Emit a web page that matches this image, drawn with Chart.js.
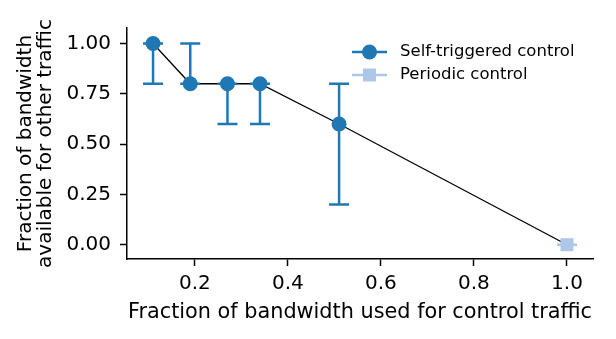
<!DOCTYPE html>
<html>
<head>
<meta charset="utf-8">
<script src="https://cdn.jsdelivr.net/npm/chart.js@4"></script>
<style>
  body { margin: 0; background: #fff; }
  #wrap { width: 616px; height: 339px; }
</style>
</head>
<body>
<div id="wrap"><canvas id="myChart" width="616" height="339"></canvas></div>
<script>
// self-triggered control: x, y and error range
const selfX = [0.11, 0.19, 0.27, 0.34, 0.51]
const selfY = [1.0, 0.8, 0.8, 0.8, 0.6]
const selfLow = [0.8, 0.8, 0.6, 0.6, 0.2]
const selfHigh = [1.0, 1.0, 0.8, 0.8, 0.8]

// periodic control
const periodicX = [1.0]
const periodicY = [0.0]
const periodicLow = [0.0]
const periodicHigh = [0.0]

const xTicks = [0.2, 0.4, 0.6, 0.8, 1.0]
const yTicks = [0.0, 0.25, 0.5, 0.75, 1.0]
const seriesNames = ['Self-triggered control', 'Periodic control']

const blue = '#1f77b4'
const lightBlue = '#aec7e8'
const font = 'DejaVu Sans'

function toPoints(xs, ys) {
    return xs.map((x, i) => ({ x: x, y: ys[i] }))
}

const errorBars = {
    id: 'errorBars',
    afterDatasetDraw(chart, args) {
        if (args.index !== 2) return
        const ctx = chart.ctx
        const xs = chart.scales.x
        const ys = chart.scales.y
        const groups = [
            [selfX, selfLow, selfHigh, blue],
            [periodicX, periodicLow, periodicHigh, lightBlue]
        ]
        ctx.save()
        ctx.lineWidth = 2.5
        groups.forEach(g => {
            ctx.strokeStyle = g[3]
            g[0].forEach((x, i) => {
                const px = xs.getPixelForValue(x)
                const lo = ys.getPixelForValue(g[1][i])
                const hi = ys.getPixelForValue(g[2][i])
                ctx.beginPath()
                ctx.moveTo(px, lo)
                ctx.lineTo(px, hi)
                ctx.moveTo(px - 10, lo)
                ctx.lineTo(px + 10, lo)
                ctx.moveTo(px - 10, hi)
                ctx.lineTo(px + 10, hi)
                ctx.stroke()
            })
        })
        ctx.restore()
    }
}

const legendBox = {
    id: 'legendBox',
    afterDraw(chart) {
        const ctx = chart.ctx
        const rows = [[blue, 'circle', 52], [lightBlue, 'square', 75]]
        ctx.save()
        rows.forEach((r, i) => {
            ctx.strokeStyle = r[0]
            ctx.fillStyle = r[0]
            ctx.lineWidth = 2.5
            ctx.beginPath()
            ctx.moveTo(352, r[2])
            ctx.lineTo(387, r[2])
            ctx.stroke()
            ctx.beginPath()
            if (r[1] === 'circle') {
                ctx.arc(369.5, r[2], 7.5, 0, Math.PI * 2)
            } else {
                ctx.rect(363, r[2] - 6.5, 13, 13)
            }
            ctx.fill()
            ctx.fillStyle = '#000'
            ctx.font = '16.5px "' + font + '"'
            ctx.textBaseline = 'middle'
            ctx.fillText(seriesNames[i], 400, r[2])
        })
        ctx.restore()
    }
}

const ctx = document.getElementById('myChart')
new Chart(ctx, {
    type: 'scatter',
    data: {
        datasets: [{
            label: seriesNames[0],
            data: toPoints(selfX, selfY),
            pointRadius: 7.5,
            pointHoverRadius: 7.5,
            pointBackgroundColor: blue,
            pointBorderWidth: 0,
            showLine: false
        }, {
            label: seriesNames[1],
            data: toPoints(periodicX, periodicY),
            pointStyle: 'rect',
            pointRadius: 9.2,
            pointHoverRadius: 9.2,
            pointBackgroundColor: lightBlue,
            pointBorderWidth: 0,
            showLine: false
        }, {
            label: 'link',
            data: toPoints(selfX.concat(periodicX), selfY.concat(periodicY)),
            showLine: true,
            borderColor: '#000',
            borderWidth: 1.3,
            pointRadius: 0,
            tension: 0
        }]
    },
    options: {
        responsive: false,
        animation: false,
        layout: { padding: { top: 28, right: 23, left: 0, bottom: 0 } },
        plugins: {
            legend: { display: false },
            tooltip: { enabled: false }
        },
        scales: {
            x: {
                type: 'linear',
                min: 0.054,
                max: 1.056,
                afterBuildTicks: s => { s.ticks = xTicks.map(v => ({ value: v })) },
                afterFit: s => { s.height = 80 },
                grid: { drawOnChartArea: false, tickLength: 7, tickColor: '#000', tickWidth: 1.5 },
                border: { color: '#000', width: 1.5 },
                ticks: {
                    padding: 6,
                    color: '#000',
                    font: { family: font, size: 20 },
                    maxRotation: 0,
                    callback: v => v.toFixed(1)
                },
                title: {
                    display: true,
                    text: 'Fraction of bandwidth used for control traffic',
                    color: '#000',
                    font: { family: font, size: 20.8 },
                    padding: { top: 0, bottom: 14 }
                }
            },
            y: {
                type: 'linear',
                min: -0.071,
                max: 1.077,
                afterBuildTicks: s => { s.ticks = yTicks.map(v => ({ value: v })) },
                afterFit: s => { s.width = 127 },
                grid: { drawOnChartArea: false, tickLength: 7, tickColor: '#000', tickWidth: 1.5 },
                border: { color: '#000', width: 1.5 },
                ticks: {
                    padding: 9,
                    color: '#000',
                    font: { family: font, size: 20 },
                    callback: v => v.toFixed(2)
                },
                title: {
                    display: true,
                    text: ['Fraction of bandwidth', 'available for other traffic'],
                    color: '#000',
                    font: { family: font, size: 20, lineHeight: 1.0 },
                    padding: { top: 16, bottom: 0 }
                }
            }
        }
    },
    plugins: [errorBars, legendBox]
});
</script>
</body>
</html>
